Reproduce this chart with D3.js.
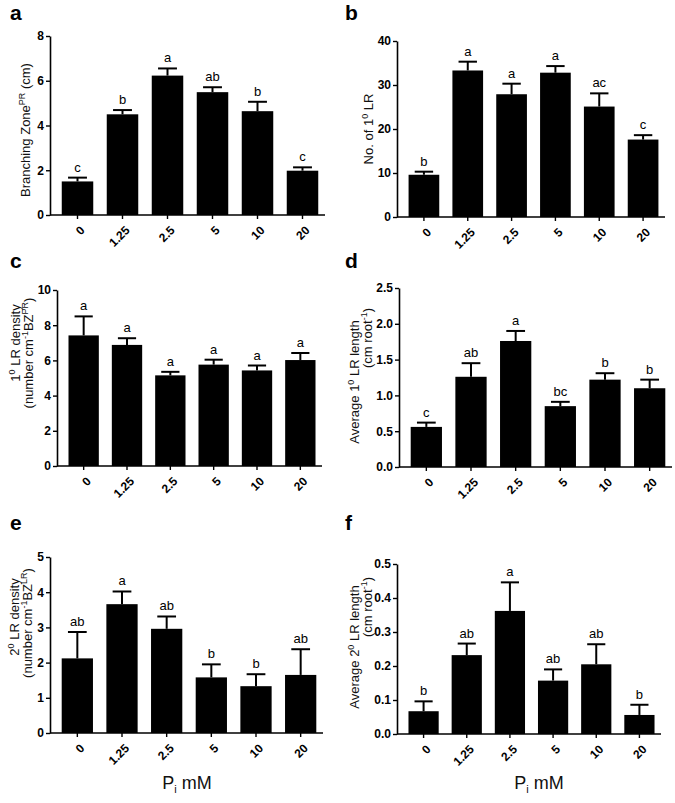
<!DOCTYPE html>
<html lang="en">
<head>
<meta charset="UTF-8">
<title>Pi panels</title>
<script src="https://d3js.org/d3.v7.min.js"></script>
<style>
  body { margin: 0; background: #fff; }
  svg { display: block; font-family: "Liberation Sans", Arial, sans-serif; }
</style>
</head>
<body>
<div class="chart"></div>
<script>
// categories (Pi mM)
const categories = ["0", "1.25", "2.5", "5", "10", "20"];

// a - branching zone PR (cm)
const branchMean = [1.5, 4.5, 6.23, 5.49, 4.64, 1.98];
const branchSem  = [0.17, 0.19, 0.32, 0.22, 0.42, 0.15];
const branchSig  = ["c", "b", "a", "ab", "b", "c"];
const branchTicks = [0, 2, 4, 6, 8];

// b - no. of 1st order LR
const lrCountMean = [9.6, 33.3, 27.9, 32.8, 25.1, 17.6];
const lrCountSem  = [0.7, 2.0, 2.4, 1.5, 3.0, 1.0];
const lrCountSig  = ["b", "a", "a", "a", "ac", "c"];
const lrCountTicks = [0, 10, 20, 30, 40];

// c - 1st order LR density
const dens1Mean = [7.42, 6.88, 5.15, 5.76, 5.43, 6.02];
const dens1Sem  = [1.08, 0.38, 0.2, 0.28, 0.28, 0.4];
const dens1Sig  = ["a", "a", "a", "a", "a", "a"];
const dens1Ticks = [0, 2, 4, 6, 8, 10];

// d - average 1st order LR length
const len1Mean = [0.56, 1.26, 1.76, 0.85, 1.22, 1.1];
const len1Sem  = [0.06, 0.19, 0.14, 0.06, 0.09, 0.12];
const len1Sig  = ["c", "ab", "a", "bc", "b", "b"];
const len1Ticks = [0, 0.5, 1, 1.5, 2, 2.5];

// e - 2nd order LR density
const dens2Mean = [2.12, 3.66, 2.96, 1.58, 1.33, 1.65];
const dens2Sem  = [0.75, 0.36, 0.35, 0.37, 0.34, 0.73];
const dens2Sig  = ["ab", "a", "ab", "b", "b", "ab"];
const dens2Ticks = [0, 1, 2, 3, 4, 5];

// f - average 2nd order LR length
const len2Mean = [0.067, 0.232, 0.362, 0.157, 0.205, 0.056];
const len2Sem  = [0.029, 0.034, 0.084, 0.033, 0.059, 0.03];
const len2Sig  = ["b", "ab", "a", "ab", "ab", "b"];
const len2Ticks = [0, 0.1, 0.2, 0.3, 0.4, 0.5];

const W = 675, H = 803;
const svg = d3.select('.chart').append('svg').attr('width', W).attr('height', H);

// label lines: list of [text, kind] where kind = '', 'sup'
const panels = [
  { letter: 'a', lx: 10, ly: 20, mean: branchMean, sem: branchSem, sig: branchSig, ticks: branchTicks, fmt: d3.format('d'),
    box: { left: 50, right: 325, top: 36, bottom: 215 },
    label: [{ x: 30, y: 130, parts: [['Branching Zone', ''], ['PR', 'sup'], [' (cm)', '']] }] },
  { letter: 'b', lx: 345, ly: 20, mean: lrCountMean, sem: lrCountSem, sig: lrCountSig, ticks: lrCountTicks, fmt: d3.format('d'),
    box: { left: 397, right: 665, top: 41, bottom: 217 },
    label: [{ x: 373, y: 129, parts: [['No. of 1', ''], ['0', 'sup'], [' LR', '']] }] },
  { letter: 'c', lx: 10, ly: 268, mean: dens1Mean, sem: dens1Sem, sig: dens1Sig, ticks: dens1Ticks, fmt: d3.format('d'),
    box: { left: 57, right: 322, top: 290, bottom: 466 },
    label: [{ x: 20, y: 343, parts: [['1', ''], ['0', 'sup'], [' LR density', '']] },
            { x: 33, y: 353, parts: [['(number cm', ''], ['-1', 'sup'], ['BZ', ''], ['PR', 'sup'], [')', '']] }] },
  { letter: 'd', lx: 345, ly: 268, mean: len1Mean, sem: len1Sem, sig: len1Sig, ticks: len1Ticks, fmt: d3.format('.1f'),
    box: { left: 399, right: 672, top: 288, bottom: 467 },
    label: [{ x: 359, y: 382, parts: [['Average  1', ''], ['0', 'sup'], [' LR length', '']] },
            { x: 372, y: 338, parts: [['(cm root', ''], ['-1', 'sup'], [')', '']] }] },
  { letter: 'e', lx: 10, ly: 530, mean: dens2Mean, sem: dens2Sem, sig: dens2Sig, ticks: dens2Ticks, fmt: d3.format('d'),
    box: { left: 50, right: 323, top: 557, bottom: 733 },
    label: [{ x: 19, y: 617, parts: [['2', ''], ['0', 'sup'], [' LR density', '']] },
            { x: 32, y: 623, parts: [['(number cm', ''], ['-1', 'sup'], ['BZ', ''], ['LR', 'sup'], [')', '']] }] },
  { letter: 'f', lx: 345, ly: 530, mean: len2Mean, sem: len2Sem, sig: len2Sig, ticks: len2Ticks, fmt: d3.format('.1f'),
    box: { left: 397, right: 661, top: 564, bottom: 734 },
    label: [{ x: 359, y: 647, parts: [['Average  2', ''], ['0', 'sup'], [' LR length', '']] },
            { x: 372, y: 607, parts: [['(cm root', ''], ['-1', 'sup'], [')', '']] }] }
];

panels.forEach(p => {
  const b = p.box;
  const g = svg.append('g');

  const xScale = d3.scaleBand()
    .domain(categories)
    .range([b.left + 5, b.right])
    .paddingInner(0.3)
    .paddingOuter(0.15);

  const yScale = d3.scaleLinear()
    .domain([p.ticks[0], p.ticks[p.ticks.length - 1]])
    .range([b.bottom, b.top]);

  const rows = categories.map((c, i) => ({ cat: c, mean: p.mean[i], sem: p.sem[i], sig: p.sig[i] }));

  // bars
  g.selectAll('rect.bar').data(rows).join('rect')
    .attr('class', 'bar')
    .attr('x', d => xScale(d.cat))
    .attr('y', d => yScale(d.mean))
    .attr('width', xScale.bandwidth())
    .attr('height', d => yScale(0) - yScale(d.mean))
    .attr('fill', '#000');

  // upper error bars
  const cap = xScale.bandwidth() * 0.3;
  g.selectAll('line.err').data(rows).join('line')
    .attr('class', 'err')
    .attr('x1', d => xScale(d.cat) + xScale.bandwidth() / 2)
    .attr('x2', d => xScale(d.cat) + xScale.bandwidth() / 2)
    .attr('y1', d => yScale(d.mean))
    .attr('y2', d => yScale(d.mean + d.sem))
    .attr('stroke', '#000').attr('stroke-width', 2);
  g.selectAll('line.cap').data(rows).join('line')
    .attr('class', 'cap')
    .attr('x1', d => xScale(d.cat) + xScale.bandwidth() / 2 - cap)
    .attr('x2', d => xScale(d.cat) + xScale.bandwidth() / 2 + cap)
    .attr('y1', d => yScale(d.mean + d.sem))
    .attr('y2', d => yScale(d.mean + d.sem))
    .attr('stroke', '#000').attr('stroke-width', 2);

  // significance letters
  g.selectAll('text.sig').data(rows).join('text')
    .attr('class', 'sig')
    .attr('x', d => xScale(d.cat) + xScale.bandwidth() / 2)
    .attr('y', d => yScale(d.mean + d.sem) - 6)
    .attr('text-anchor', 'middle')
    .style('font-size', '13px')
    .text(d => d.sig);

  // y axis
  const yAxis = d3.axisLeft(yScale).tickValues(p.ticks).tickFormat(p.fmt).tickSize(4).tickSizeOuter(0).tickPadding(2);
  const yg = g.append('g').attr('transform', `translate(${b.left},0)`).call(yAxis);
  yg.select('.domain').attr('stroke-width', 1.6);
  yg.selectAll('.tick line').attr('stroke-width', 1.4);
  yg.selectAll('.tick text').style('font-size', '12px').style('font-weight', 'bold').attr('fill', '#000')
    .style('font-family', '"Liberation Sans", Arial, sans-serif');

  // x axis
  const xAxis = d3.axisBottom(xScale).tickSize(4).tickSizeOuter(0);
  const xg = g.append('g').attr('transform', `translate(0,${b.bottom})`).call(xAxis);
  xg.select('.domain').attr('d', `M${b.left},0H${b.right}`).attr('stroke-width', 1.6);
  xg.selectAll('.tick line').attr('stroke-width', 1.4);
  xg.selectAll('.tick text')
    .attr('text-anchor', 'end')
    .attr('x', 0).attr('y', 0).attr('dy', '0.35em')
    .attr('transform', 'translate(5,13) rotate(-45)')
    .style('font-size', '12px').style('font-weight', 'bold').attr('fill', '#000')
    .style('font-family', '"Liberation Sans", Arial, sans-serif');

  // y label
  p.label.forEach(l => {
    const t = g.append('text')
      .attr('transform', `translate(${l.x},${l.y}) rotate(-90)`)
      .attr('text-anchor', 'middle')
      .style('font-size', '13px')
      .attr('fill', '#111');
    let up = false;
    l.parts.forEach(([txt, kind]) => {
      const sp = t.append('tspan').text(txt);
      if (kind === 'sup' && !up) { sp.attr('dy', -5).style('font-size', '9px'); up = true; }
      else if (kind === 'sup') { sp.style('font-size', '9px'); }
      else if (up) { sp.attr('dy', 5); up = false; }
    });
  });

  // panel letter
  svg.append('text')
    .attr('x', p.lx).attr('y', p.ly)
    .style('font-size', '21px').style('font-weight', 'bold')
    .text(p.letter);
});

// x titles
[[187, 789], [539, 789]].forEach(([x, y]) => {
  const t = svg.append('text').attr('x', x).attr('y', y).attr('text-anchor', 'middle')
    .style('font-size', '18px').attr('fill', '#111');
  t.append('tspan').text('P');
  t.append('tspan').attr('dy', 4).style('font-size', '11px').text('i');
  t.append('tspan').attr('dy', -4).text(' mM');
});
</script>
</body>
</html>
